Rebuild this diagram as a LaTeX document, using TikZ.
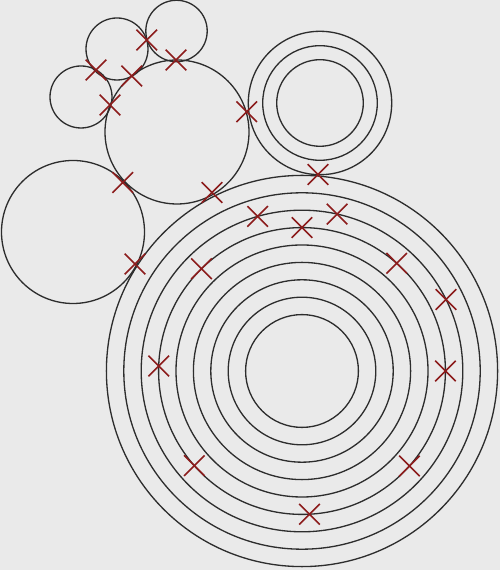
\documentclass[tikz,border=0pt]{standalone}
\usetikzlibrary{shapes.misc,calc}
\definecolor{bggray}{RGB}{234,234,234}
\definecolor{penline}{RGB}{45,45,45}
\definecolor{markred}{RGB}{140,28,28}
\tikzset{
  ring/.style={draw=penline, line width=0.75pt},
  touch/.style={cross out, draw=markred, line width=0.9pt, minimum size=0.38cm, inner sep=0pt},
}

\begin{document}
\begin{tikzpicture}[x=0.02cm,y=0.02cm]
            \fill[bggray] (0,0) rectangle (500,570);
            \useasboundingbox (0,0) rectangle (500,570);
            \coordinate (G) at (302,199);
            \coordinate (S) at (320,467);
            \coordinate (M) at (177,438);
            \coordinate (L) at (73,338);
            \coordinate (A) at (81,473);
            \coordinate (B) at (117,521);
            \coordinate (C) at (176.5,539);
            \foreach \k in {0,...,8}
                \draw[ring] (G) circle ({56.4+17.4*\k});
            \foreach \r in {43.3,57.3,71.7}
                \draw[ring] (S) circle (\r);
            \draw[ring] (M) circle (72);
            \draw[ring] (L) circle (71.5);
            \draw[ring] (A) circle (31);
            \draw[ring] (B) circle (31);
            \draw[ring] (C) circle (30.7);
            \node[touch] (bc) at (146.7,530) {};
            \node[touch] (ab) at (96,500) {};
            \node[touch] (bm) at (131.7,494) {};
            \node[touch] (cm) at (176,510) {};
            \node[touch] (am) at (110,465) {};
            \node[touch] (ms) at (246.7,458.3) {};
            \node[touch] (lm) at (122.7,387.5) {};
            \node[touch] (mg) at (212,377.5) {};
            \node[touch] (lg) at (135,306) {};
            \node[touch] (sg) at (318,395.5) {};
            \foreach \a/\r [count=\i] in {106/160.8, 77.4/160.8, 26.4/160.8,
                90/143.4, 134.5/143.4, 48.7/143.4, 178/143.4, 0/143.4,
                221.3/143.4, 318.5/143.4, 273/143.4}
                \node[touch] (g\i) at ($(G)+(\a:\r)$) {};
\end{tikzpicture}
\end{document}
